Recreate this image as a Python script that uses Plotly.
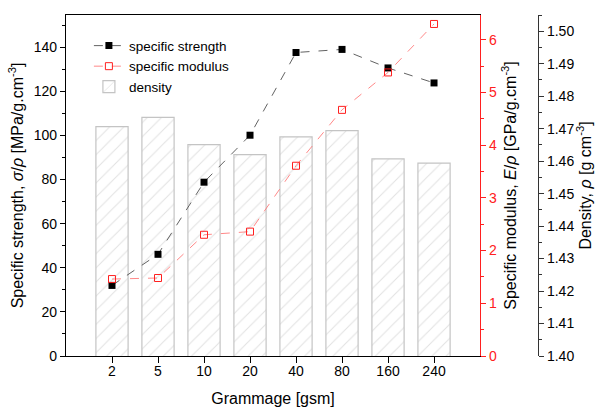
import plotly.graph_objects as go

# Paper grammage series
grammage = ["2", "5", "10", "20", "40", "80", "160", "240"]
specific_strength = [32.0, 46.1, 78.8, 100.1, 137.6, 139.0, 130.6, 123.8]   # MPa/g.cm-3
specific_modulus = [1.46, 1.48, 2.30, 2.36, 3.61, 4.67, 5.38, 6.30]         # GPa/g.cm-3
density = [1.4706, 1.4735, 1.4651, 1.4620, 1.4675, 1.4694, 1.4607, 1.4594]  # g cm-3

FONT = "Liberation Sans, Arial, sans-serif"
RED = "#ff2020"

fig = go.Figure()

# density bars sit on the base axis so they are drawn underneath the line series
fig.add_trace(go.Bar(
    x=grammage, y=density, name="density", yaxis="y", xaxis="x",
    width=0.7,
    marker=dict(
        color="rgba(255,255,255,0)",
        line=dict(color="#c4c4c4", width=1.2),
        pattern=dict(shape="/", fgcolor="#c4c4c4", bgcolor="rgba(255,255,255,0)",
                     size=10, solidity=0.1),
    ),
    legendrank=3,
))

fig.add_trace(go.Scatter(
    x=grammage, y=specific_strength, name="specific strength", yaxis="y2",
    mode="lines+markers",
    line=dict(color="#505050", width=0.9, dash="dash"),
    marker=dict(symbol="square", size=7, color="black"),
    legendrank=1,
))

fig.add_trace(go.Scatter(
    x=grammage, y=specific_modulus, name="specific modulus", yaxis="y3",
    mode="lines+markers",
    line=dict(color="#ff6a6a", width=0.8, dash="dash"),
    marker=dict(symbol="square-open", size=7, color=RED, line=dict(width=1)),
    legendrank=2,
))

x_end = 0.8134
fig.update_layout(
    width=595, height=407,
    margin=dict(l=66, r=20, t=15, b=51),
    paper_bgcolor="white", plot_bgcolor="white",
    font=dict(family=FONT, size=14, color="black"),
    showlegend=True,
    legend=dict(x=0.045, y=0.955, xanchor="left", yanchor="top",
                bgcolor="rgba(255,255,255,0)", font=dict(size=13.5),
                tracegroupgap=0, itemwidth=30),
    xaxis=dict(
        type="category", domain=[0, x_end], range=[-1, 8], anchor="y",
        showline=True, linecolor="black", linewidth=1.3, mirror=True,
        ticks="outside", ticklen=6, tickcolor="black", showgrid=False,
        tickfont=dict(size=14), ticklabelstandoff=-4, automargin=False,
        title=dict(text="Grammage [gsm]", font=dict(size=16), standoff=20),
    ),
    yaxis=dict(
        range=[1.40, 1.505], anchor="free", position=0.9273, side="right",
        showline=True, linecolor="#333333", linewidth=1.3, automargin=False,
        ticks="outside", ticklen=5, tickcolor="#333333",
        tickvals=[1.40, 1.41, 1.42, 1.43, 1.44, 1.45, 1.46, 1.47, 1.48, 1.49, 1.50],
        ticktext=["1.40", "1.41", "1.42", "1.43", "1.44", "1.45", "1.46", "1.47",
                  "1.48", "1.49", "1.50"],
        minor=dict(dtick=0.005, ticks="outside", ticklen=3, tickcolor="#333333"),
        showgrid=False, zeroline=False, tickfont=dict(size=14),
        title=dict(text="Density, <i>ρ</i> [g cm<sup>-3</sup>]", font=dict(size=16),
                   standoff=4),
    ),
    yaxis2=dict(
        overlaying="y", anchor="x", side="left", range=[0, 154.6],
        showline=True, linecolor="black", linewidth=1.3, automargin=False,
        ticks="outside", ticklen=5, tickcolor="black", dtick=20,
        minor=dict(dtick=10, ticks="outside", ticklen=3, tickcolor="black"),
        showgrid=False, zeroline=False, tickfont=dict(size=14),
        title=dict(text="Specific strength, <i>σ</i>/<i>ρ</i> [MPa/g.cm<sup>-3</sup>]",
                   font=dict(size=16), standoff=6),
    ),
    yaxis3=dict(
        overlaying="y", anchor="x", side="right", range=[0, 6.47],
        showline=True, linecolor=RED, linewidth=1.3, automargin=False,
        ticks="outside", ticklen=5, tickcolor=RED, dtick=1,
        minor=dict(dtick=0.5, ticks="outside", ticklen=3, tickcolor=RED),
        showgrid=False, zeroline=False, tickfont=dict(size=14, color=RED),
        title=dict(text="Specific modulus, <i>E</i>/<i>ρ</i> [GPa/g.cm<sup>-3</sup>]",
                   font=dict(size=16, color="black"), standoff=8),
    ),
)

fig.write_html("out.html")
